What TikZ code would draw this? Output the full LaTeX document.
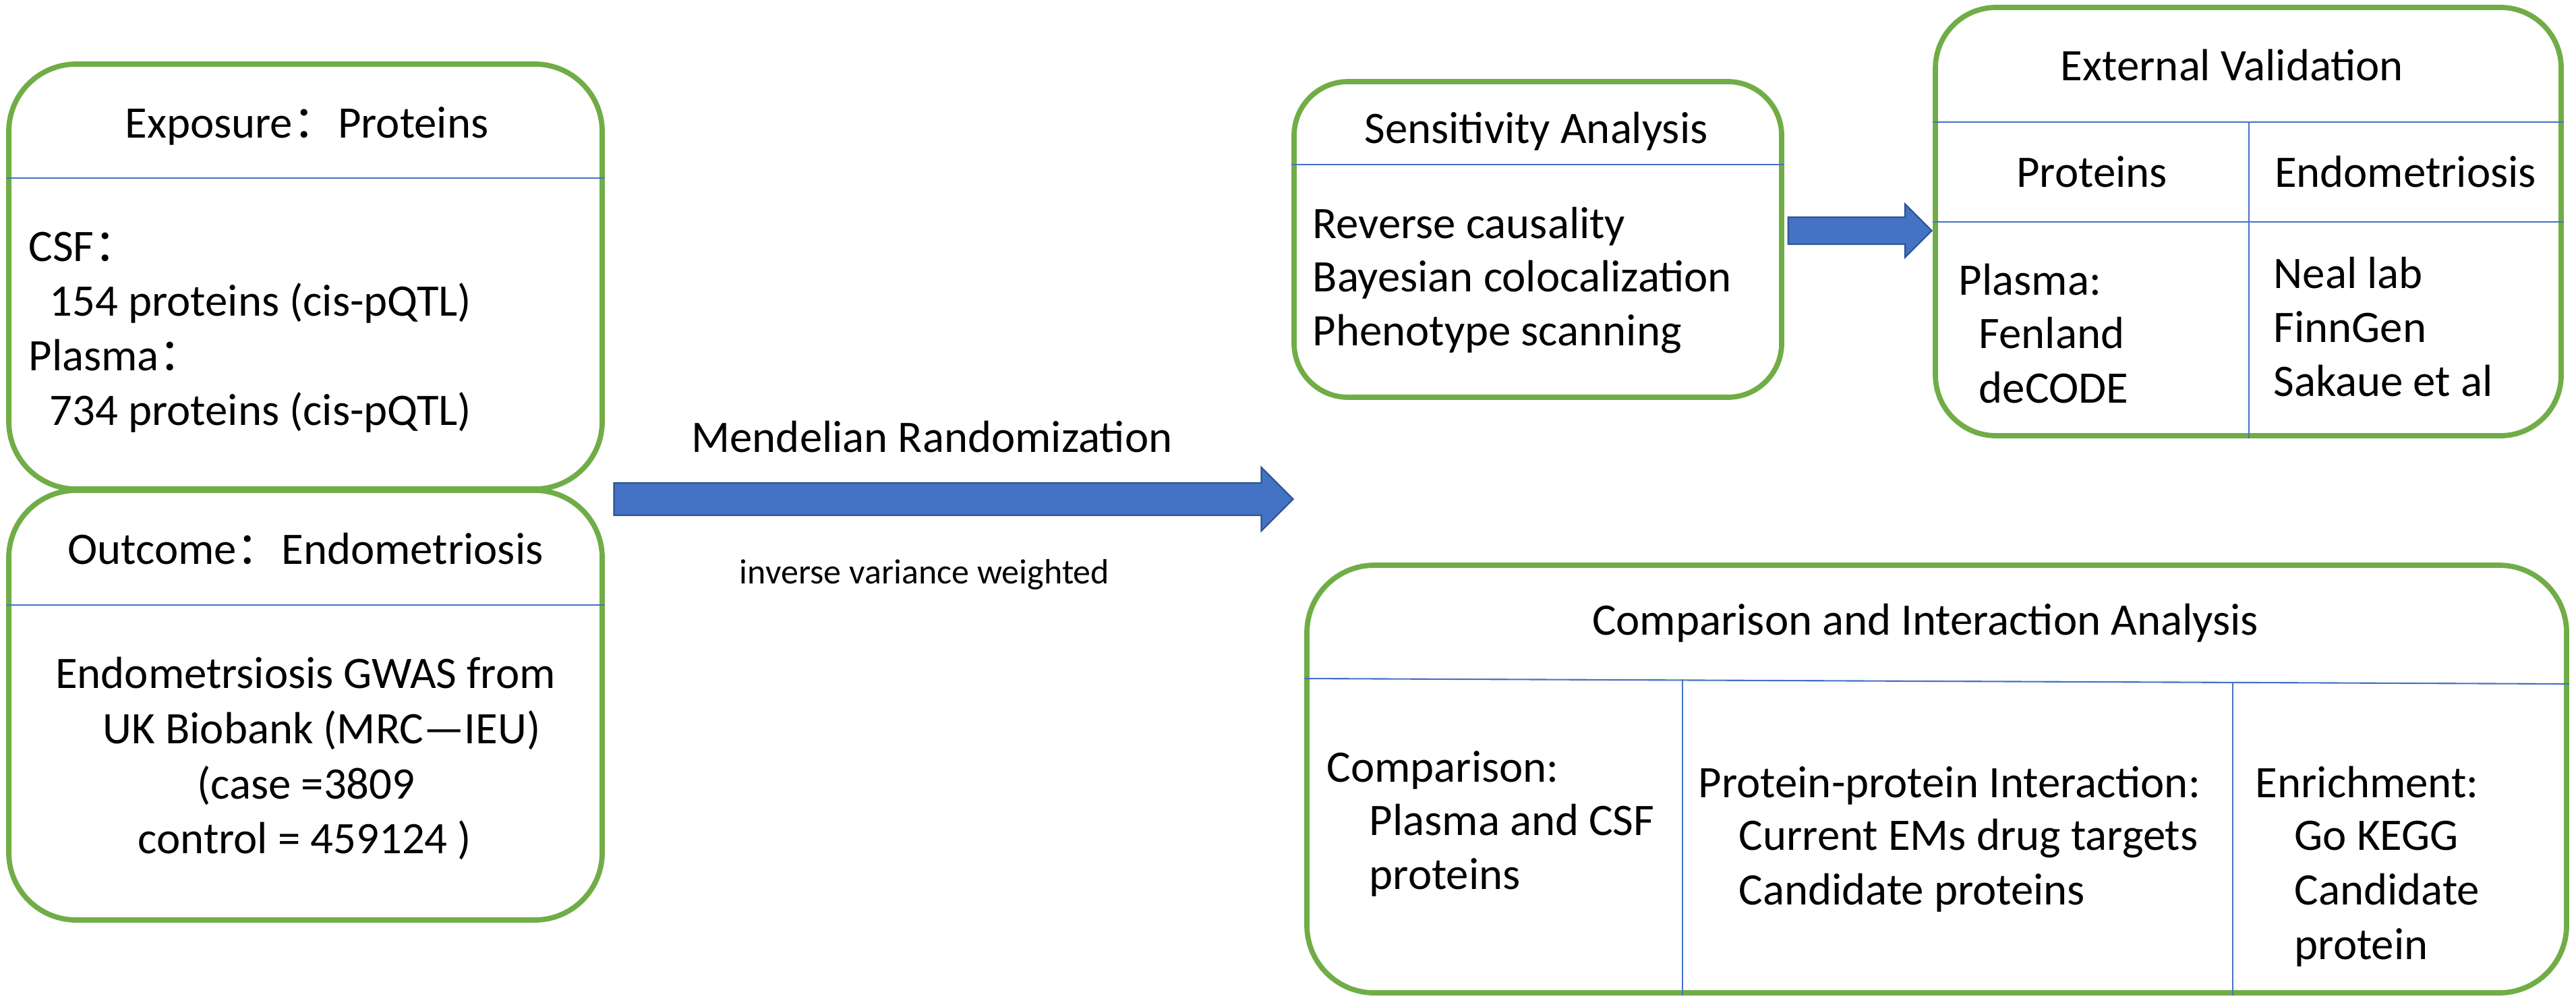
\documentclass[tikz,border=0pt]{standalone}
\usepackage{fontspec}
\setmainfont{Carlito}
\newfontfamily\cjk{Noto Sans CJK SC}
\usetikzlibrary{shapes.arrows}

\definecolor{boxgreen}{HTML}{70AD47}
\definecolor{lineblue}{HTML}{4472C4}
\definecolor{arrowedge}{HTML}{2F528F}

\tikzset{
	box/.style={draw=boxgreen, line width=2.2pt, rounded corners=#1},
	box/.default=1cm,
	divider/.style={draw=lineblue, line width=0.6pt},
	body/.style={font=\fontsize{19}{23}\selectfont, inner sep=0pt},
	note/.style={font=\fontsize{14.8}{18}\selectfont, inner sep=0pt},
	blockarrow/.style={single arrow, draw=arrowedge, fill=lineblue, line width=0.6pt, single arrow tip angle=90, inner xsep=0pt, minimum height=#1}
}

\begin{document}
\begin{tikzpicture}
	\useasboundingbox (0,0) rectangle (38.2,-14.92);
	
	%EXPOSURE
	\node[box, minimum width=8.8cm, minimum height=6.3cm] (expo) at (4.53,-4.10) {};
	\node[body, anchor=base] (expotitle) at (4.55,-2.04) {Exposure{\cjk ：}Proteins};
	\draw[divider] (expo.west |- 0,-2.64) -- (expo.east |- 0,-2.64);
	\node[body, anchor=base west] (csf) at (0.42,-3.87) {CSF{\cjk ：}};
	\node[body, anchor=base west] (csfnum) at (0.73,-4.68) {154 proteins (cis-pQTL)};
	\node[body, anchor=base west] (plasma) at (0.42,-5.49) {Plasma{\cjk ：}};
	\node[body, anchor=base west] (plasmanum) at (0.73,-6.30) {734 proteins (cis-pQTL)};
	
	%OUTCOME
	\node[box, minimum width=8.8cm, minimum height=6.37cm] (outc) at (4.53,-10.455) {};
	\node[body, anchor=base] (outctitle) at (4.53,-8.36) {Outcome{\cjk ：}Endometriosis};
	\draw[divider] (outc.west |- 0,-8.97) -- (outc.east |- 0,-8.97);
	\node[body, anchor=base] (gwas1) at (4.53,-10.20) {Endometrsiosis GWAS from};
	\node[body, anchor=base] (gwas2) at (4.77,-11.02) {UK Biobank (MRC—IEU)};
	\node[body, anchor=base] (gwas3) at (4.54,-11.84) {(case =3809};
	\node[body, anchor=base] (gwas4) at (4.52,-12.65) {control = 459124 )};
	
	%MR
	\node[blockarrow=10.07cm, inner ysep=0.23cm, single arrow head extend=0.23cm] (mrarrow) at (14.02,-7.40) {};
	\node[body, anchor=base] (mrlabel) at (13.82,-6.70) {Mendelian Randomization};
	\node[note, anchor=base] (ivwlabel) at (13.71,-8.65) {inverse variance weighted};
	
	%SENSITIVITY
	\node[box=0.8cm, minimum width=7.23cm, minimum height=4.68cm] (sens) at (22.805,-3.55) {};
	\node[body, anchor=base] (senstitle) at (22.78,-2.12) {Sensitivity Analysis};
	\draw[divider] (sens.west |- 0,-2.44) -- (sens.east |- 0,-2.44);
	\foreach \txt [count=\i] in {Reverse causality,Bayesian colocalization,Phenotype scanning}
	\node[body, anchor=base west] (sens\i) at (19.46,{-3.53-0.795*(\i-1)}) {\txt};
	
	\node[blockarrow=2.13cm, inner ysep=0.19cm, single arrow head extend=0.195cm] (valarrow) at (27.48,-3.42) {};
	
	%EXTERNAL VALIDATION
	\node[box=0.9cm, minimum width=9.28cm, minimum height=6.35cm] (extv) at (33.34,-3.285) {};
	\node[body, anchor=base] (extvtitle) at (33.10,-1.19) {External Validation};
	\coordinate (evrow1) at (0,-1.81);
	\coordinate (evrow2) at (0,-3.29);
	\coordinate (evcol) at (33.35,-1.81);
	\draw[divider] (extv.west |- evrow1) -- (extv.east |- evrow1);
	\draw[divider] (extv.west |- evrow2) -- (extv.east |- evrow2);
	\draw[divider] (evcol) -- (evcol |- extv.south);
	\node[body, anchor=base] (evprot) at (31.02,-2.77) {Proteins};
	\node[body, anchor=base] (evendo) at (35.67,-2.77) {Endometriosis};
	\node[body, anchor=base west] (evplasma) at (29.04,-4.37) {Plasma:};
	\node[body, anchor=base west] (evfen) at (29.34,-5.16) {Fenland};
	\node[body, anchor=base west] (evdec) at (29.34,-5.97) {deCODE};
	\foreach \txt [count=\i] in {Neal lab,FinnGen,Sakaue et al}
	\node[body, anchor=base west] (evout\i) at (33.71,{-4.27-0.80*(\i-1)}) {\txt};
	
	%COMPARISON
	\node[box, minimum width=18.68cm, minimum height=6.34cm] (comp) at (28.72,-11.55) {};
	\node[body, anchor=base] (comptitle) at (28.55,-9.41) {Comparison and Interaction Analysis};
	\draw[divider] (comp.west |- 0,-10.06) -- (comp.east |- 0,-10.14);
	\coordinate (cpcol1) at (24.95,-10.07);
	\coordinate (cpcol2) at (33.11,-10.12);
	\draw[divider] (cpcol1) -- (cpcol1 |- comp.south);
	\draw[divider] (cpcol2) -- (cpcol2 |- comp.south);
	\node[body, anchor=base west] (cmp1) at (19.67,-11.59) {Comparison:};
	\node[body, anchor=base west] (cmp2) at (20.30,-12.38) {Plasma and CSF};
	\node[body, anchor=base west] (cmp3) at (20.30,-13.18) {proteins};
	\node[body, anchor=base west] (ppi1) at (25.18,-11.82) {Protein-protein Interaction:};
	\node[body, anchor=base west] (ppi2) at (25.78,-12.60) {Current EMs drug targets};
	\node[body, anchor=base west] (ppi3) at (25.78,-13.41) {Candidate proteins};
	\node[body, anchor=base west] (enr1) at (33.44,-11.82) {Enrichment:};
	\foreach \txt [count=\i] in {Go KEGG,Candidate,protein}
	\node[body, anchor=base west] (enr\i) at (34.02,{-12.60-0.81*(\i-1)}) {\txt};
	
	%\draw[help lines] (0,0) grid (38,-15);
\end{tikzpicture}
\end{document}
